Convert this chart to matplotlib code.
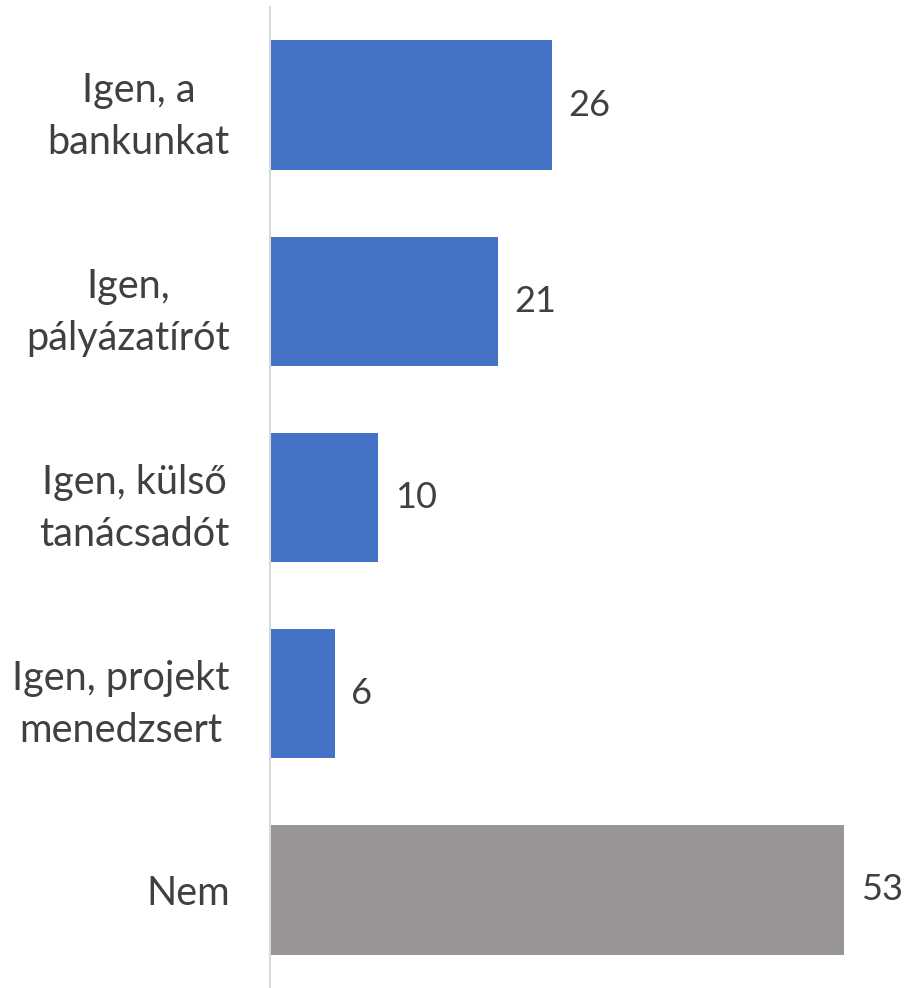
import matplotlib
matplotlib.use("Agg")
import matplotlib.pyplot as plt

categories = ["Igen, a\nbankunkat", "Igen,\npályázatírót", "Igen, külső\ntanácsadót",
              "Igen, projekt\nmenedzsert", "Nem"]
values = [26, 21, 10, 6, 53]
colors = ["#4472C4", "#4472C4", "#4472C4", "#4472C4", "#989594"]

plt.rcParams['font.family'] = ['Lato', 'DejaVu Sans']
text_color = "#404040"

fig = plt.figure(figsize=(9.05, 9.88), dpi=100)
ax = fig.add_axes([270 / 905, 0, 635 / 905, 981 / 988])

y = list(range(len(categories)))
bars = ax.barh(y, values, height=0.66, color=colors)
ax.set_ylim(4.5, -0.5)
ax.set_xlim(0, 58.6)

for bar, v in zip(bars, values):
    ax.text(bar.get_width() + 1.5, bar.get_y() + bar.get_height() / 2, str(v),
            va="center", ha="left", fontsize=26, color=text_color)

ax.set_yticks(y)
ax.set_yticklabels(categories, fontsize=28.5, color=text_color, linespacing=1.5,
                   multialignment="center")
ax.tick_params(axis="y", length=0, pad=29)
ax.set_xticks([])
for side in ["top", "right", "bottom"]:
    ax.spines[side].set_visible(False)
ax.spines["left"].set_color("#D9D9D9")
ax.spines["left"].set_linewidth(1.5)

fig.savefig("out.png", dpi=100)
